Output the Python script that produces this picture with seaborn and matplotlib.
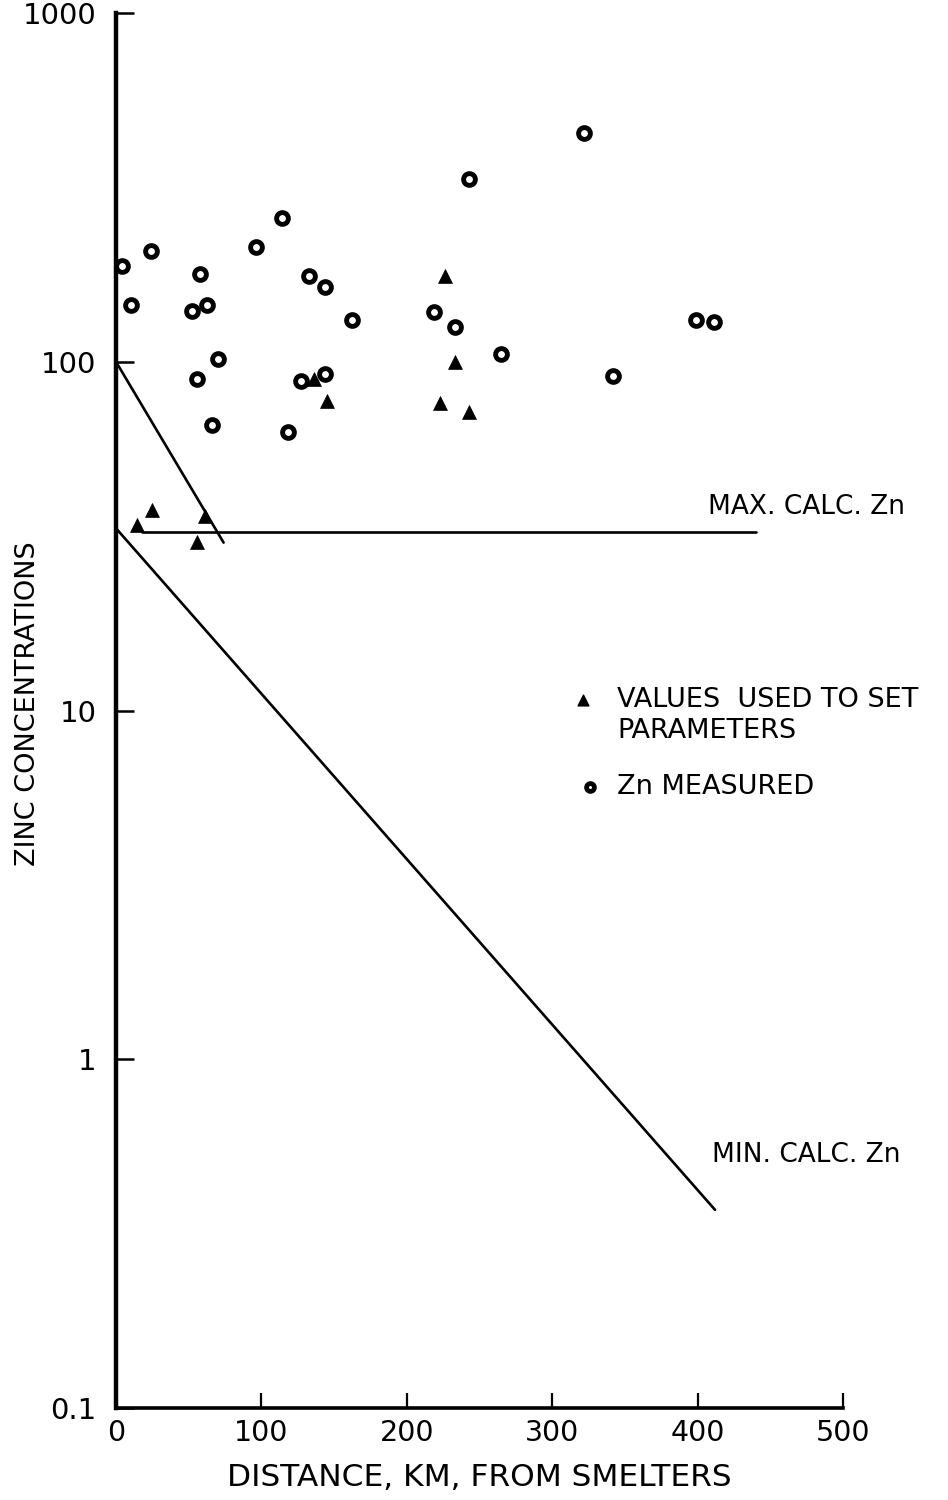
import matplotlib
matplotlib.use("Agg")
import matplotlib.pyplot as plt
import seaborn as sns
import pandas as pd

# ---- data ----
meas_dist = [4, 10.5, 24, 52, 58, 62.5, 56, 70, 66, 96.5, 114.5, 133, 143.5,
             162.5, 127.5, 144, 118.5, 219, 233, 265, 243, 322, 342, 399, 411]
meas_zn = [188, 145, 208, 140, 179, 145, 89, 102, 66, 213, 259, 176, 164,
           132, 88, 92, 63, 139, 126, 105, 335, 452, 91, 132, 130]

param_dist = [226.5, 233, 222.5, 243, 136, 145, 25, 14.5, 61, 56]
param_zn = [176, 100, 76, 72, 89, 77, 37.7, 34, 36, 30.5]

steep_dist = [0, 74]
steep_zn = [100, 30.3]
max_dist = [18, 440]
max_zn = [32.5, 32.5]
min_dist = [0, 412]
min_zn = [33.3, 0.37]

x_ticks = [0, 100, 200, 300, 400, 500]
x_ticklabels = ["0", "100", "200", "300", "400", "500"]
y_ticks = [0.1, 1, 10, 100, 1000]
y_ticklabels = ["0.1", "1", "10", "100", "1000"]

sns.set_style("ticks")
plt.rcParams["font.family"] = ["DejaVu Sans"]
plt.rcParams["text.color"] = "black"
plt.rcParams["axes.labelcolor"] = "black"
plt.rcParams["axes.edgecolor"] = "black"

W, H = 948, 1500
fig = plt.figure(figsize=(W / 100, H / 100), dpi=100)
ax_l, ax_r, ax_t, ax_b = 116, 843, 13, 1408
ax = fig.add_axes([ax_l / W, 1 - ax_b / H, (ax_r - ax_l) / W, (ax_b - ax_t) / H])
ax.set_yscale("log")
ax.set_xlim(0, 500)
ax.set_ylim(0.1, 1000)

meas_df = pd.DataFrame({"dist": meas_dist, "zn": meas_zn})
param_df = pd.DataFrame({"dist": param_dist, "zn": param_zn})

sns.scatterplot(data=meas_df, x="dist", y="zn", ax=ax, marker="o", s=72,
                facecolor="white", edgecolor="black", linewidth=3.5,
                clip_on=False, zorder=4)
sns.scatterplot(data=param_df, x="dist", y="zn", ax=ax, marker="^", s=100,
                color="black", edgecolor="black", linewidth=0.5, zorder=5)

for xs, ys in [(steep_dist, steep_zn), (max_dist, max_zn), (min_dist, min_zn)]:
    sns.lineplot(x=xs, y=ys, ax=ax, sort=False, estimator=None,
                 color="black", linewidth=1.9, zorder=3)

# spines / ticks
sns.despine(ax=ax)
ax.spines["left"].set_linewidth(3.2)
ax.spines["bottom"].set_linewidth(2.6)
ax.set_xticks(x_ticks)
ax.set_xticklabels(x_ticklabels)
ax.set_yticks(y_ticks)
ax.set_yticklabels(y_ticklabels)
ax.minorticks_off()
ax.tick_params(axis="x", direction="in", length=11, width=1.6, pad=8,
               labelsize=20.5, colors="black")
ax.tick_params(axis="y", direction="in", length=13, width=1.8, pad=14,
               labelsize=21, colors="black")

ax.set_xlabel("DISTANCE, KM, FROM SMELTERS", fontsize=22.5)
ax.set_ylabel("ZINC CONCENTRATIONS", fontsize=19.5)
ax.xaxis.label.set_va("center")
ax.yaxis.label.set_va("center")
ax.xaxis.set_label_coords(0.5, -0.050)
ax.yaxis.set_label_coords(-0.121, 0.505)

# line annotations
ax.text(407, 38.3, "MAX. CALC. Zn", fontsize=19, va="center", ha="left")
ax.text(410, 0.53, "MIN. CALC. Zn", fontsize=19, va="center", ha="left")

# legend (drawn by hand to mimic the original layout)
ax.scatter([0.642], [0.5075], marker="^", s=60, color="black",
           transform=ax.transAxes, clip_on=False)
ax.scatter([0.652], [0.445], marker="o", s=32, facecolor="white",
           edgecolor="black", linewidth=3.4, transform=ax.transAxes,
           clip_on=False)
ax.text(0.689, 0.5075, "VALUES  USED TO SET", fontsize=19.5, va="center",
        ha="left", transform=ax.transAxes)
ax.text(0.689, 0.485, "PARAMETERS", fontsize=19.5, va="center", ha="left",
        transform=ax.transAxes)
ax.text(0.689, 0.445, "Zn MEASURED", fontsize=19.5, va="center", ha="left",
        transform=ax.transAxes)

fig.savefig("out.png", dpi=100, facecolor="white")
